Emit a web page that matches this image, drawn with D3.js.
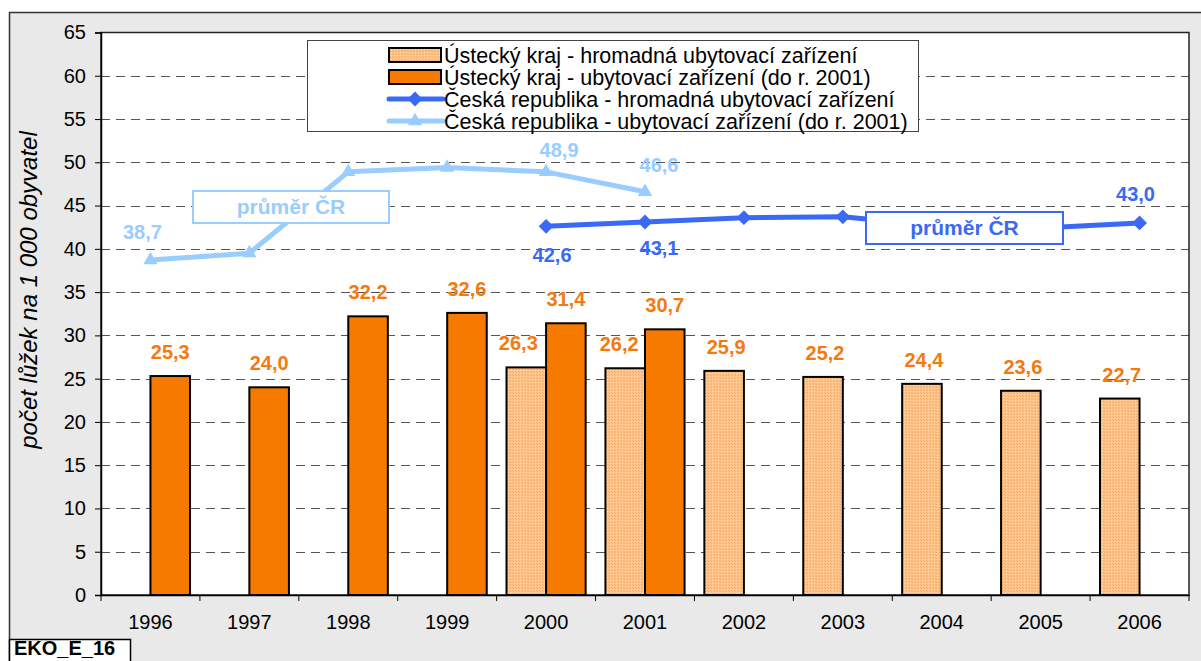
<!DOCTYPE html>
<html><head><meta charset="utf-8">
<script src="https://cdn.jsdelivr.net/npm/d3@7"></script>
<style>body{margin:0;background:#fff}svg{display:block}text{font-family:Arial,"Liberation Sans",sans-serif}</style>
</head><body>
<script>
const years = ["1996","1997","1998","1999","2000","2001","2002","2003","2004","2005","2006"];
const ukHromadna = [null,null,null,null,26.3,26.2,25.9,25.2,24.4,23.6,22.7];
const ukDo2001 = [25.3,24.0,32.2,32.6,31.4,30.7,null,null,null,null,null];
const crHromadna = [null,null,null,null,42.6,43.1,43.6,43.7,42.6,42.4,43.0];
const crDo2001 = [38.7,39.5,48.9,49.4,48.9,46.6,null,null,null,null,null];
const crHromadnaLabeled = ["2000","2001","2006"];
const crDo2001Labeled = ["1996","2000","2001"];
const yTicks = [0,5,10,15,20,25,30,35,40,45,50,55,60,65];
const legendLabels = ["Ústecký kraj - hromadná ubytovací zařízení","Ústecký kraj - ubytovací zařízení (do r. 2001)","Česká republika - hromadná ubytovací zařízení","Česká republika - ubytovací zařízení (do r. 2001)"];
const yTitle = "počet lůžek na 1 000 obyvatel";
const avgLabel = "průměr ČR";
const chartCode = "EKO_E_16";

const W=1201,H=661;
const C={orange:"#f77a00",orangeTxt:"#f47a10",peach:"#ffc386",dark:"#3a6af5",light:"#99ccff"};
const svg=d3.select("body").append("svg").attr("width",W).attr("height",H);
const defs=svg.append("defs");
const pat=defs.append("pattern").attr("id","hatch").attr("patternUnits","userSpaceOnUse").attr("width",3).attr("height",3);
pat.append("rect").attr("width",3).attr("height",3).attr("fill",C.peach);
pat.append("rect").attr("x",0).attr("y",0).attr("width",1).attr("height",1).attr("fill","#f2a868");
pat.append("rect").attr("x",1).attr("y",1).attr("width",1).attr("height",1).attr("fill","#ffd6ac");
pat.append("rect").attr("x",2).attr("y",2).attr("width",1).attr("height",1).attr("fill","#f5ae70");

// outer panel
svg.append("rect").attr("x",9.5).attr("y",12.5).attr("width",1210).attr("height",670).attr("fill","#e9e9e9").attr("stroke","#333").attr("stroke-width",1.5);

const L=101,R=1189,T=32.5,B=595;
const x=d3.scaleBand().domain(years).range([L,R]).padding(0);
const xs=d3.scaleBand().domain(["h","o"]).range([0,x.bandwidth()]).paddingInner(0).paddingOuter(0.25);
const y=d3.scaleLinear().domain([0,65]).range([B,T]);

svg.append("rect").attr("x",L).attr("y",T).attr("width",R-L).attr("height",B-T).attr("fill","#fff");
// grid
svg.append("g").selectAll("line").data(yTicks.filter(v=>v>0&&v<65)).join("line")
 .attr("x1",L).attr("x2",R).attr("y1",d=>Math.round(y(d))+0.5).attr("y2",d=>Math.round(y(d))+0.5)
 .attr("stroke","#555").attr("stroke-dasharray","9,6").attr("stroke-width",1);
// plot frame
svg.append("rect").attr("x",L).attr("y",T).attr("width",R-L).attr("height",B-T).attr("fill","none").attr("stroke","#222").attr("stroke-width",1.5);

// y axis
const ya=svg.append("g").attr("transform",`translate(${L},0)`).call(d3.axisLeft(y).tickValues(yTicks).tickSize(6).tickPadding(9));
ya.select(".domain").attr("stroke","#000").attr("stroke-width",1.5);
ya.selectAll("line").attr("stroke","#000");
ya.selectAll("text").attr("font-size",20).attr("fill","#000").style("font-family","Arial,'Liberation Sans',sans-serif");
// x axis
const xa=svg.append("g").attr("transform",`translate(0,${B})`).call(d3.axisBottom(x).tickSize(0).tickPadding(20));
xa.select(".domain").attr("stroke","#000").attr("stroke-width",1.5);
xa.selectAll("text").attr("font-size",20).attr("fill","#000").style("font-family","Arial,'Liberation Sans',sans-serif");
svg.append("g").selectAll("line").data(years).join("line")
 .attr("x1",d=>x(d)+x.bandwidth()).attr("x2",d=>x(d)+x.bandwidth())
 .attr("y1",B).attr("y2",B+6).attr("stroke","#000");
svg.append("line").attr("x1",L).attr("x2",L).attr("y1",B).attr("y2",B+6).attr("stroke","#000");

// bars
const barsH=years.map((yr,i)=>({yr,v:ukHromadna[i]})).filter(d=>d.v!=null);
const barsO=years.map((yr,i)=>({yr,v:ukDo2001[i]})).filter(d=>d.v!=null);
svg.append("g").selectAll("rect").data(barsH).join("rect")
 .attr("x",d=>x(d.yr)+xs("h")).attr("y",d=>y(d.v)).attr("width",xs.bandwidth()).attr("height",d=>B-y(d.v))
 .attr("fill","url(#hatch)").attr("stroke","#000").attr("stroke-width",2);
svg.append("g").selectAll("rect").data(barsO).join("rect")
 .attr("x",d=>x(d.yr)+xs("o")).attr("y",d=>y(d.v)).attr("width",xs.bandwidth()).attr("height",d=>B-y(d.v))
 .attr("fill",C.orange).attr("stroke","#000").attr("stroke-width",2);
const fmt=v=>v.toFixed(1).replace(".",",");
const hDx={"2000":-8,"2001":-6};
svg.append("g").selectAll("text").data(barsH).join("text")
 .attr("x",d=>x(d.yr)+xs("h")+xs.bandwidth()/2+(hDx[d.yr]||2)).attr("y",d=>y(d.v)-17)
 .attr("text-anchor","middle").attr("font-size",20).attr("font-weight","bold").attr("fill",C.orangeTxt).text(d=>fmt(d.v));
svg.append("g").selectAll("text").data(barsO).join("text")
 .attr("x",d=>x(d.yr)+xs("o")+xs.bandwidth()/2).attr("y",d=>y(d.v)-17)
 .attr("text-anchor","middle").attr("font-size",20).attr("font-weight","bold").attr("fill",C.orangeTxt).text(d=>fmt(d.v));

// lines
const cx=yr=>x(yr)+x.bandwidth()/2;
const ptsLight=years.map((yr,i)=>({yr,v:crDo2001[i]})).filter(d=>d.v!=null);
const ptsDark=years.map((yr,i)=>({yr,v:crHromadna[i]})).filter(d=>d.v!=null);
const line=d3.line().x(d=>cx(d.yr)).y(d=>y(d.v));
svg.append("path").attr("d",line(ptsLight)).attr("fill","none").attr("stroke",C.light).attr("stroke-width",5).attr("stroke-linejoin","round");
svg.append("g").selectAll("path").data(ptsLight).join("path")
 .attr("transform",d=>`translate(${cx(d.yr)},${y(d.v)})`).attr("d",d3.symbol(d3.symbolTriangle,90)()).attr("fill",C.light);
svg.append("path").attr("d",line(ptsDark)).attr("fill","none").attr("stroke",C.dark).attr("stroke-width",5).attr("stroke-linejoin","round");
svg.append("g").selectAll("path").data(ptsDark).join("path")
 .attr("transform",d=>`translate(${cx(d.yr)},${y(d.v)}) rotate(45)`).attr("d",d3.symbol(d3.symbolSquare,110)()).attr("fill",C.dark);

const lightOff={"1996":[-8,-21],"2000":[13,-15],"2001":[14,-20]};
svg.append("g").selectAll("text").data(ptsLight.filter(d=>crDo2001Labeled.includes(d.yr))).join("text")
 .attr("x",d=>cx(d.yr)+lightOff[d.yr][0]).attr("y",d=>y(d.v)+lightOff[d.yr][1])
 .attr("text-anchor","middle").attr("font-size",20).attr("font-weight","bold").attr("fill",C.light).text(d=>fmt(d.v));
const darkOff={"2000":[6,36],"2001":[14,33],"2006":[-4,-22]};
svg.append("g").selectAll("text").data(ptsDark.filter(d=>crHromadnaLabeled.includes(d.yr))).join("text")
 .attr("x",d=>cx(d.yr)+darkOff[d.yr][0]).attr("y",d=>y(d.v)+darkOff[d.yr][1])
 .attr("text-anchor","middle").attr("font-size",20).attr("font-weight","bold").attr("fill",C.dark).text(d=>fmt(d.v));

// average boxes
function avgBox(x0,y0,w,h,col){
 svg.append("rect").attr("x",x0).attr("y",y0).attr("width",w).attr("height",h).attr("fill","#fff").attr("stroke",col).attr("stroke-width",2);
 svg.append("text").attr("x",x0+w/2).attr("y",y0+h/2+7).attr("text-anchor","middle").attr("font-size",21).attr("font-weight","bold").attr("fill",col).text(avgLabel);
}
avgBox(193,191,196,32,C.light);
avgBox(866,212,197,32,C.dark);

// legend
const lg=svg.append("g");
lg.append("rect").attr("x",307.5).attr("y",40.5).attr("width",611).attr("height",91).attr("fill","#fff").attr("stroke","#444").attr("stroke-width",1);
const rowY=[55,77,99,121];
const sx0=389,sx1=441;
lg.append("rect").attr("x",sx0).attr("y",rowY[0]-7).attr("width",sx1-sx0).attr("height",14).attr("fill","url(#hatch)").attr("stroke","#000").attr("stroke-width",2);
lg.append("rect").attr("x",sx0).attr("y",rowY[1]-7).attr("width",sx1-sx0).attr("height",14).attr("fill",C.orange).attr("stroke","#000").attr("stroke-width",2);
lg.append("line").attr("x1",sx0).attr("x2",sx1+2).attr("y1",rowY[2]).attr("y2",rowY[2]).attr("stroke",C.dark).attr("stroke-width",5).attr("stroke-linecap","round");
lg.append("path").attr("transform",`translate(${(sx0+sx1)/2},${rowY[2]}) rotate(45)`).attr("d",d3.symbol(d3.symbolSquare,110)()).attr("fill",C.dark);
lg.append("line").attr("x1",sx0).attr("x2",sx1+2).attr("y1",rowY[3]).attr("y2",rowY[3]).attr("stroke",C.light).attr("stroke-width",5).attr("stroke-linecap","round");
lg.append("path").attr("transform",`translate(${(sx0+sx1)/2},${rowY[3]})`).attr("d",d3.symbol(d3.symbolTriangle,90)()).attr("fill",C.light);
lg.selectAll("text.l").data(legendLabels).join("text").attr("class","l")
 .attr("x",444).attr("y",(d,i)=>rowY[i]+8).attr("font-size",21.5).attr("fill","#000").text(d=>d);

// y title
svg.append("text").attr("transform","translate(37,290) rotate(-90)").attr("text-anchor","middle")
 .attr("font-size",24).attr("font-style","italic").attr("fill","#000").text(yTitle);

// code box
svg.append("rect").attr("x",9.5).attr("y",639.5).attr("width",121).attr("height",30).attr("fill","#fff").attr("stroke","#000").attr("stroke-width",1.5);
svg.append("text").attr("x",14).attr("y",655).attr("font-size",20).attr("font-weight","bold").attr("fill","#000").text(chartCode);
</script>
</body></html>
